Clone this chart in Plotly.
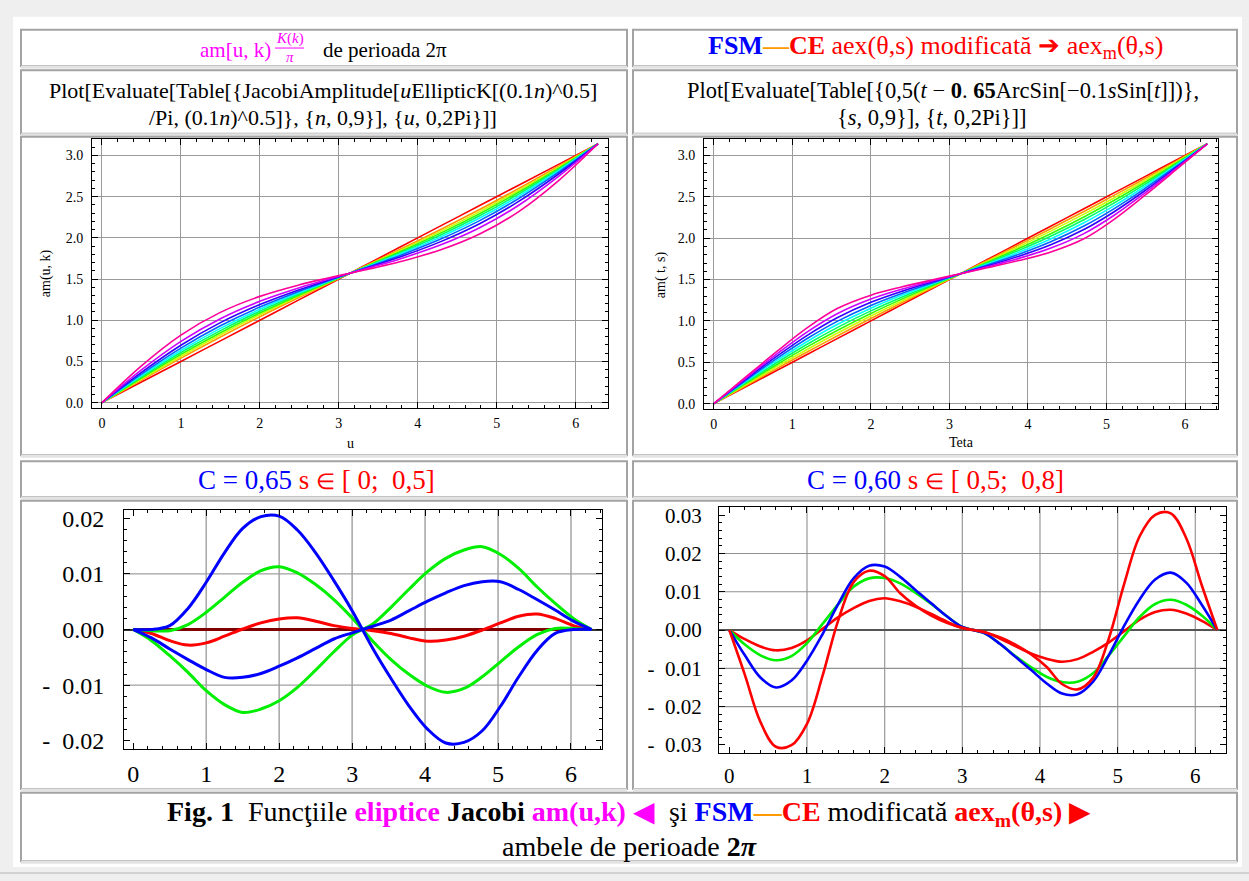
import plotly.graph_objects as go

# ---------------- data ----------------
# Top-left panel: am(u, k), n = 0..9
am_u = [0, 0.5, 1.0, 1.5, 2.0, 2.5, 2.85, 3.1416, 3.4332, 3.7832, 4.2832, 4.7832, 5.2832, 5.7832, 6.2832]
am_n0 = [0, 0.25, 0.5, 0.75, 1.0, 1.25, 1.425, 1.5708, 1.7166, 1.8916, 2.1416, 2.3916, 2.6416, 2.8916, 3.1416]
am_n1 = [0, 0.2732, 0.5404, 0.7974, 1.0427, 1.2779, 1.4383, 1.5708, 1.7033, 1.8637, 2.0989, 2.3442, 2.6012, 2.8684, 3.1416]
am_n2 = [0, 0.2866, 0.5634, 0.8239, 1.0662, 1.2930, 1.4455, 1.5708, 1.6961, 1.8486, 2.0754, 2.3177, 2.5782, 2.8550, 3.1416]
am_n3 = [0, 0.2995, 0.5854, 0.8488, 1.0879, 1.3068, 1.4521, 1.5708, 1.6895, 1.8348, 2.0537, 2.2928, 2.5562, 2.8421, 3.1416]
am_n4 = [0, 0.3128, 0.6078, 0.8740, 1.1097, 1.3206, 1.4586, 1.5708, 1.6830, 1.8210, 2.0319, 2.2676, 2.5338, 2.8288, 3.1416]
am_n5 = [0, 0.3277, 0.6326, 0.9015, 1.1331, 1.3353, 1.4655, 1.5708, 1.6761, 1.8063, 2.0085, 2.2401, 2.5090, 2.8139, 3.1416]
am_n6 = [0, 0.3453, 0.6617, 0.9331, 1.1597, 1.3518, 1.4733, 1.5708, 1.6683, 1.7898, 1.9819, 2.2085, 2.4799, 2.7963, 3.1416]
am_n7 = [0, 0.3670, 0.6968, 0.9706, 1.1906, 1.3708, 1.4822, 1.5708, 1.6594, 1.7708, 1.9510, 2.1710, 2.4448, 2.7746, 3.1416]
am_n8 = [0, 0.3964, 0.7431, 1.0188, 1.2297, 1.3943, 1.4931, 1.5708, 1.6485, 1.7473, 1.9119, 2.1228, 2.3985, 2.7452, 3.1416]
am_n9 = [0, 0.4467, 0.8198, 1.0955, 1.2896, 1.4296, 1.5093, 1.5708, 1.6323, 1.7120, 1.8520, 2.0461, 2.3218, 2.6949, 3.1416]

# Top-right panel: aex(t, s), s = 0..9
aex_t = [0, 0.4, 0.8, 1.2, 1.5708, 2.0, 2.4, 2.8, 3.1416, 3.4832, 3.8832, 4.2832, 4.7124, 5.0832, 5.4832, 5.8832, 6.2832]
aex_s0 = [0, 0.2, 0.4, 0.6, 0.7854, 1.0, 1.2, 1.4, 1.5708, 1.7416, 1.9416, 2.1416, 2.3562, 2.5416, 2.7416, 2.9416, 3.1416]
aex_s1 = [0, 0.2127, 0.4233, 0.6303, 0.8180, 1.0296, 1.2220, 1.4109, 1.5708, 1.7307, 1.9196, 2.1120, 2.3236, 2.5113, 2.7183, 2.9289, 3.1416]
aex_s2 = [0, 0.2253, 0.4468, 0.6609, 0.8508, 1.0594, 1.2440, 1.4218, 1.5708, 1.7198, 1.8976, 2.0822, 2.2908, 2.4807, 2.6948, 2.9163, 3.1416]
aex_s3 = [0, 0.2381, 0.4705, 0.6921, 0.8844, 1.0898, 1.2663, 1.4327, 1.5708, 1.7089, 1.8753, 2.0518, 2.2572, 2.4495, 2.6711, 2.9035, 3.1416]
aex_s4 = [0, 0.2508, 0.4946, 0.7242, 0.9191, 1.1210, 1.2889, 1.4437, 1.5708, 1.6979, 1.8527, 2.0206, 2.2225, 2.4174, 2.6470, 2.8908, 3.1416]
aex_s5 = [0, 0.2637, 0.5192, 0.7576, 0.9556, 1.1534, 1.3120, 1.4547, 1.5708, 1.6869, 1.8296, 1.9882, 2.1860, 2.3840, 2.6224, 2.8779, 3.1416]
aex_s6 = [0, 0.2766, 0.5446, 0.7928, 0.9945, 1.1875, 1.3356, 1.4658, 1.5708, 1.6758, 1.8060, 1.9541, 2.1471, 2.3488, 2.5970, 2.8650, 3.1416]
aex_s7 = [0, 0.2897, 0.5710, 0.8310, 1.0374, 1.2243, 1.3600, 1.4769, 1.5708, 1.6647, 1.7816, 1.9173, 2.1042, 2.3106, 2.5706, 2.8519, 3.1416]
aex_s8 = [0, 0.3030, 0.5986, 0.8735, 1.0868, 1.2647, 1.3855, 1.4882, 1.5708, 1.6534, 1.7561, 1.8769, 2.0548, 2.2681, 2.5430, 2.8386, 3.1416]
aex_s9 = [0, 0.3164, 0.6282, 0.9236, 1.1493, 1.3114, 1.4124, 1.4995, 1.5708, 1.6421, 1.7292, 1.8302, 1.9923, 2.2180, 2.5134, 2.8252, 3.1416]

# Bottom-left panel: C = 0,65
c65_t = [0, 0.25, 0.5, 0.75, 1.0, 1.25, 1.5, 1.75, 2.0, 2.25, 2.5, 2.75, 3.0, 3.1416,
         3.2832, 3.5332, 3.7832, 4.0332, 4.2832, 4.5332, 4.7832, 5.0332, 5.2832, 5.5332, 5.7832, 6.0332, 6.2832]
c65_blue_a = [0, 0.0, 0.0007, 0.0038, 0.0085, 0.0138, 0.0182, 0.0203, 0.0204, 0.0179, 0.0138, 0.0088, 0.0034, 0,
              -0.0034, -0.0088, -0.0138, -0.0179, -0.0204, -0.0203, -0.0182, -0.0138, -0.0085, -0.0038, -0.0007, 0.0, 0]
c65_blue_b = [0, -0.0015, -0.0035, -0.0054, -0.0072, -0.0086, -0.0086, -0.0079, -0.0066, -0.0051, -0.0034, -0.0017, -0.0006, 0,
              0.0006, 0.0017, 0.0034, 0.0051, 0.0066, 0.0079, 0.0086, 0.0086, 0.0072, 0.0054, 0.0035, 0.0015, 0]
c65_green_a = [0, -0.0002, -0.0002, 0.0009, 0.0031, 0.0058, 0.0085, 0.0106, 0.0113, 0.0102, 0.0081, 0.0054, 0.0021, 0,
               -0.0021, -0.0054, -0.0081, -0.0102, -0.0113, -0.0106, -0.0085, -0.0058, -0.0031, -0.0009, 0.0002, 0.0002, 0]
c65_green_b = [0, -0.0020, -0.0047, -0.0077, -0.0110, -0.0135, -0.0149, -0.0143, -0.0128, -0.0104, -0.0073, -0.0040, -0.0010, 0,
               0.0010, 0.0040, 0.0073, 0.0104, 0.0128, 0.0143, 0.0149, 0.0135, 0.0110, 0.0077, 0.0047, 0.0020, 0]
c65_red = [0, -0.0007, -0.0020, -0.0028, -0.0024, -0.0012, 0.0001, 0.0012, 0.0019, 0.0021, 0.0015, 0.0007, 0.0002, 0,
           -0.0002, -0.0007, -0.0015, -0.0021, -0.0019, -0.0012, -0.0001, 0.0012, 0.0024, 0.0028, 0.0020, 0.0007, 0]
c65_zero = [0] * 27

# Bottom-right panel: C = 0,60
c60_t = [0, 0.2, 0.4, 0.6, 0.8, 1.0, 1.2, 1.4, 1.6, 1.8, 2.0, 2.2, 2.4, 2.6, 2.8, 3.0, 3.1416,
         3.2832, 3.4832, 3.6832, 3.8832, 4.0832, 4.2832, 4.4832, 4.6832, 4.8832, 5.0832, 5.2832, 5.4832, 5.6832, 5.8832, 6.0832, 6.2832]
c60_red_a = [0, -0.0117, -0.0240, -0.0305, -0.0301, -0.0245, -0.0120, 0.0024, 0.0125, 0.0155, 0.0141, 0.0096, 0.0063, 0.0038, 0.0019, 0.0006, 0,
             -0.0006, -0.0019, -0.0038, -0.0063, -0.0096, -0.0141, -0.0155, -0.0125, -0.0024, 0.0120, 0.0245, 0.0301, 0.0305, 0.0240, 0.0117, 0]
c60_blue = [0, -0.0066, -0.0124, -0.0150, -0.0132, -0.0080, -0.0011, 0.0067, 0.0135, 0.0168, 0.0166, 0.0139, 0.0104, 0.0070, 0.0036, 0.0008, 0,
            -0.0008, -0.0036, -0.0070, -0.0104, -0.0139, -0.0166, -0.0168, -0.0135, -0.0067, 0.0011, 0.0080, 0.0132, 0.0150, 0.0124, 0.0066, 0]
c60_green = [0, -0.0038, -0.0066, -0.0079, -0.0068, -0.0034, 0.0016, 0.0067, 0.0113, 0.0135, 0.0136, 0.0122, 0.0097, 0.0068, 0.0036, 0.0008, 0,
             -0.0008, -0.0036, -0.0068, -0.0097, -0.0122, -0.0136, -0.0135, -0.0113, -0.0067, -0.0016, 0.0034, 0.0068, 0.0079, 0.0066, 0.0038, 0]
c60_red_b = [0, -0.0024, -0.0043, -0.0053, -0.0047, -0.0027, 0.0003, 0.0033, 0.0057, 0.0076, 0.0083, 0.0075, 0.0061, 0.0042, 0.0022, 0.0005, 0,
             -0.0005, -0.0022, -0.0042, -0.0061, -0.0075, -0.0083, -0.0076, -0.0057, -0.0033, -0.0003, 0.0027, 0.0047, 0.0053, 0.0043, 0.0024, 0]

# ticks
x_ticks = [0, 1, 2, 3, 4, 5, 6]
am_yticks = [0.0, 0.5, 1.0, 1.5, 2.0, 2.5, 3.0]
c65_yticks = [-0.02, -0.01, 0.0, 0.01, 0.02]
c65_ylabels = ['-\u00a0\u00a00.02', '-\u00a0\u00a00.01', '0.00', '0.01', '0.02']
c60_yticks = [-0.03, -0.02, -0.01, 0.0, 0.01, 0.02, 0.03]
c60_ylabels = ['-\u00a0\u00a00.03', '-\u00a0\u00a00.02', '-\u00a0\u00a00.01', '0.00', '0.01', '0.02', '0.03']
c65_grid_x = [1, 2, 3, 4, 5, 6]
c65_grid_y = [-0.01, 0.01]
c60_grid_x = [1, 2, 3, 4, 5, 6]
c60_grid_y = [-0.02, -0.01, 0.01, 0.02]

# ---------------- figure ----------------
W, H = 1249, 881
def fx(p):
    return p / W
def fy(p):
    return 1 - p / H

SERIF = 'Liberation Serif'
MAG = '#ff00ff'
BLUE = '#0000ff'
RED = '#ff0000'
ORANGE = '#ff9900'
GREEN = '#00ee00'

fig = go.Figure()

am_sets = [am_n0, am_n1, am_n2, am_n3, am_n4, am_n5, am_n6, am_n7, am_n8, am_n9]
for n, ys in enumerate(am_sets):
    fig.add_trace(go.Scatter(x=am_u, y=ys, mode='lines', xaxis='x', yaxis='y',
                             line=dict(color=f'hsl({36 * n},100%,50%)', width=1.6, shape='spline'),
                             hoverinfo='skip', showlegend=False))

aex_sets = [aex_s0, aex_s1, aex_s2, aex_s3, aex_s4, aex_s5, aex_s6, aex_s7, aex_s8, aex_s9]
for n, ys in enumerate(aex_sets):
    fig.add_trace(go.Scatter(x=aex_t, y=ys, mode='lines', xaxis='x2', yaxis='y2',
                             line=dict(color=f'hsl({36 * n},100%,50%)', width=1.6, shape='spline'),
                             hoverinfo='skip', showlegend=False))

for ys, col in [(c65_zero, '#800000'), (c65_red, RED), (c65_green_b, GREEN), (c65_green_a, GREEN),
                (c65_blue_b, BLUE), (c65_blue_a, BLUE)]:
    fig.add_trace(go.Scatter(x=c65_t, y=ys, mode='lines', xaxis='x3', yaxis='y3',
                             line=dict(color=col, width=3, shape='spline'),
                             hoverinfo='skip', showlegend=False))

for ys, col in [(c60_red_b, RED), (c60_green, GREEN), (c60_blue, BLUE), (c60_red_a, RED)]:
    fig.add_trace(go.Scatter(x=c60_t, y=ys, mode='lines', xaxis='x4', yaxis='y4',
                             line=dict(color=col, width=2.6, shape='spline'),
                             hoverinfo='skip', showlegend=False))


def frame_axis(domain, rng, size, minor_dtick, **kw):
    d = dict(domain=domain, range=rng, showline=True, linecolor='black', linewidth=1, mirror='ticks',
             ticks='inside', ticklen=6, tickwidth=1, tickcolor='black', zeroline=False, showgrid=False,
             tickfont=dict(family=SERIF, size=size, color='black'),
             minor=dict(ticks='inside', ticklen=3, tickwidth=1, tickcolor='black', showgrid=False,
                        tick0=0, dtick=minor_dtick))
    d.update(kw)
    return d


fig.update_layout(
    width=W, height=H, margin=dict(l=0, r=0, t=0, b=0),
    paper_bgcolor='#efefef', plot_bgcolor='rgba(0,0,0,0)', showlegend=False,
    xaxis=frame_axis([fx(92), fx(608)], [-0.126, 6.409], 14, 0.2, anchor='y', tickvals=x_ticks,
                     showgrid=True, gridcolor='#9a9a9a', gridwidth=1, ticklabelstandoff=2),
    yaxis=frame_axis([fy(408), fy(136)], [-0.063, 3.204], 14, 0.1, anchor='x', tickvals=am_yticks,
                     tickformat='.1f', showgrid=True, gridcolor='#9a9a9a', gridwidth=1, ticklabelstandoff=5),
    xaxis2=frame_axis([fx(704), fx(1218)], [-0.125, 6.42], 14, 0.2, anchor='y2', tickvals=x_ticks,
                      showgrid=True, gridcolor='#9a9a9a', gridwidth=1, ticklabelstandoff=2),
    yaxis2=frame_axis([fy(409), fy(136)], [-0.063, 3.204], 14, 0.1, anchor='x2', tickvals=am_yticks,
                      tickformat='.1f', showgrid=True, gridcolor='#9a9a9a', gridwidth=1, ticklabelstandoff=5),
    xaxis3=frame_axis([fx(124), fx(602)], [-0.127, 6.425], 24, 0.2, anchor='y3', tickvals=x_ticks,
                      ticklabelstandoff=3),
    yaxis3=frame_axis([fy(753), fy(511)], [-0.02154, 0.02154], 24, 0.002, anchor='x3', tickvals=c65_yticks,
                      ticktext=c65_ylabels, zeroline=True, zerolinecolor='#333333', zerolinewidth=1.5,
                      ticklabelstandoff=14),
    xaxis4=frame_axis([fx(719), fx(1226)], [-0.133, 6.395], 21, 0.2, anchor='y4', tickvals=x_ticks,
                      ticklabelstandoff=4),
    yaxis4=frame_axis([fy(757), fy(508)], [-0.0322, 0.0322], 21, 0.002, anchor='x4', tickvals=c60_yticks,
                      ticktext=c60_ylabels, zeroline=True, zerolinecolor='#555555', zerolinewidth=2,
                      ticklabelstandoff=12),
)

shapes = []
# page panel
shapes.append(dict(type='rect', xref='paper', yref='paper', x0=fx(13), x1=fx(1242), y0=fy(872), y1=fy(13),
                   fillcolor='white', line=dict(width=0), layer='below'))
shapes.append(dict(type='line', xref='paper', yref='paper', x0=0, x1=1, y0=fy(878), y1=fy(878),
                   line=dict(color='#b5b5b5', width=1), layer='below'))

cells = [(21, 26, 627, 63), (633, 26, 1237, 63), (21, 67, 627, 131), (633, 67, 1237, 131),
         (21, 134, 627, 456), (633, 134, 1237, 456), (21, 462, 627, 498), (633, 462, 1237, 498),
         (21, 502, 627, 793), (633, 502, 1237, 793), (21, 797, 1237, 866)]
for (a, b, c, d) in cells:
    shapes.append(dict(type='rect', xref='paper', yref='paper', x0=fx(a), x1=fx(c), y0=fy(d), y1=fy(b),
                       fillcolor='white', line=dict(color='#a3a3a3', width=2), layer='below'))
    shapes.append(dict(type='line', xref='paper', yref='paper', x0=fx(a), x1=fx(c), y0=fy(d + 1), y1=fy(d + 1),
                       line=dict(color='#e3e3e3', width=3), layer='below'))

# grid lines of the lower panels
for v in c65_grid_x:
    shapes.append(dict(type='line', xref='x3', yref='y3 domain', x0=v, x1=v, y0=0, y1=1,
                       line=dict(color='#aaaaaa', width=1.6), layer='below'))
for v in c65_grid_y:
    shapes.append(dict(type='line', xref='x3 domain', yref='y3', x0=0, x1=1, y0=v, y1=v,
                       line=dict(color='#a0a0a0', width=1.3), layer='below'))
for v in c60_grid_x:
    shapes.append(dict(type='line', xref='x4', yref='y4 domain', x0=v, x1=v, y0=0, y1=1,
                       line=dict(color='#a0a0a0', width=1.3), layer='below'))
for v in c60_grid_y:
    shapes.append(dict(type='line', xref='x4 domain', yref='y4', x0=0, x1=1, y0=v, y1=v,
                       line=dict(color='#909090', width=1.2), layer='below'))

# fraction bar K(k)/pi
shapes.append(dict(type='line', xref='paper', yref='paper', x0=fx(275), x1=fx(304), y0=fy(44.5), y1=fy(44.5),
                   line=dict(color=MAG, width=1)))
fig.update_layout(shapes=shapes)


def ann(text, x, y, size, color='black', xanchor='center', angle=0):
    fig.add_annotation(text=text, x=fx(x), y=fy(y), xref='paper', yref='paper', showarrow=False,
                       xanchor=xanchor, yanchor='middle', textangle=angle,
                       font=dict(family=SERIF, size=size, color=color))


def sp(t, c):
    return f"<span style='color:{c}'>{t}</span>"

# row 1
ann('am[u, k)', 273, 46, 21, MAG, xanchor='right')
ann('<i>K</i>(<i>k</i>)', 289.5, 35, 15, MAG)
ann('<i>π</i>', 289.5, 54, 15, MAG)
ann('de perioada 2π', 321, 46, 21, 'black', xanchor='left')
ann('<b>' + sp('FSM', BLUE) + sp('—', ORANGE) + sp('CE', RED) + '</b>'
    + sp(' aex(θ,s) modificată ➔ aex<sub>m</sub>(θ,s)', RED), 935, 43, 26)

# row 2
ann('Plot[Evaluate[Table[{JacobiAmplitude[<i>u</i>EllipticK[(0.1<i>n</i>)^0.5]', 323, 87, 22)
ann('/Pi, (0.1<i>n</i>)^0.5]}, {<i>n</i>, 0,9}], {<i>u</i>, 0,2Pi}]]', 323, 115, 22)
ann('Plot[Evaluate[Table[{0,5(<i>t</i> − <b>0</b>. <b>65</b>ArcSin[−0.1<i>s</i>Sin[<i>t</i>]])},', 943, 87, 22.5)
ann('{<i>s</i>, 0,9}], {<i>t</i>, 0,2Pi}]]', 932, 115, 22.5)

# axis titles
ann('am(u, k)', 46, 272, 14, angle=-90)
ann('u', 350, 444, 14)
ann('am( t, s)', 661, 273, 14, angle=-90)
ann('Teta', 961, 443, 14)

# row 4
ann(sp('C = 0,65', BLUE) + sp(" s <span style='font-size:22px'>∈</span> [ 0;\u00a0 0,5]", RED), 317, 481, 27)
ann(sp('C = 0,60', BLUE) + sp(" s <span style='font-size:22px'>∈</span> [ 0,5;\u00a0 0,8]", RED), 935, 481, 27)

# caption
ann('<b>Fig. 1</b>\u00a0 Funcţiile <b>' + sp('eliptice', MAG) + '</b> <b>Jacobi</b> <b>' + sp('am(u,k)', MAG)
    + '</b> ' + sp('◀', MAG) + '\u00a0 şi <b>' + sp('FSM', BLUE) + sp('—', ORANGE) + sp('CE', RED)
    + '</b> modificată <b>' + sp('aex<sub>m</sub>(θ,s)', RED) + '</b> ' + sp('▶', RED), 629, 818, 28)
ann('ambele de perioade <b>2<i>π</i></b>', 629, 851, 28)

fig.write_html('out.html')
